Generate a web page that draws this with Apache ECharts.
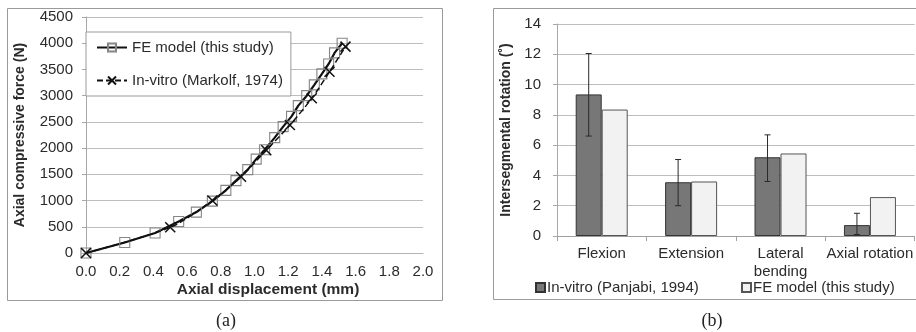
<!DOCTYPE html>
<html>
<head>
<meta charset="utf-8">
<script src="https://cdn.jsdelivr.net/npm/echarts@6/dist/echarts.min.js"></script>
<style>
html,body{margin:0;padding:0;background:#fff;}
#c{width:916px;height:332px;}
</style>
</head>
<body>
<div id="c"></div>
<script>
// Panel (a): axial force vs displacement
const feX = [0, 0.23, 0.41, 0.55, 0.655, 0.75, 0.83, 0.89, 0.96, 1.01, 1.06, 1.12, 1.17, 1.22, 1.26, 1.31, 1.355, 1.40, 1.44, 1.475, 1.52];
const feY = [0, 200, 380, 600, 780, 990, 1195, 1380, 1590, 1790, 1970, 2200, 2410, 2605, 2810, 3000, 3205, 3415, 3605, 3815, 4000];
const inX = [0, 0.50, 0.75, 0.92, 1.07, 1.21, 1.34, 1.445, 1.54];
const inY = [0, 490, 1000, 1455, 1960, 2440, 2950, 3455, 3935];
const xTicksA = [0, 2, 0.2];   // min, max, interval
const yTicksA = [0, 4500, 500];

// Panel (b): intersegmental rotation
const categories = ['Flexion', 'Extension', 'Lateral\nbending', 'Axial rotation'];
const inVitro = [9.35, 3.55, 5.2, 0.72];
const feModel = [8.35, 3.6, 5.45, 2.57];
const errLow = [6.6, 2.0, 3.6, 0.1];
const errHigh = [12.05, 5.05, 6.68, 1.5];
const yTicksB = [0, 14, 2];

const FONT = 'Liberation Sans, Arial, sans-serif';
const TXT = '#2b2b2b';

const chart = echarts.init(document.getElementById('c'), null, {renderer: 'canvas'});

const fePts = feX.map((x, i) => [x, feY[i]]);
const inPts = inX.map((x, i) => [x, inY[i]]);
const errData = categories.map((c, i) => [i, errLow[i], errHigh[i]]);

const option = {
  backgroundColor: '#fff',
  animation: false,
  textStyle: {fontFamily: FONT, color: TXT},
  grid: [
    {left: 86, top: 17, width: 337, height: 236, containLabel: false},
    {left: 557, top: 24, width: 360, height: 212, containLabel: false}
  ],
  xAxis: [
    {
      gridIndex: 0, type: 'value', min: xTicksA[0], max: xTicksA[1], interval: xTicksA[2],
      axisLine: {show: true, lineStyle: {color: '#b5b5b5', width: 1}},
      axisTick: {show: false},
      splitLine: {show: false},
      axisLabel: {fontSize: 15, color: TXT, margin: 11, fontFamily: FONT,
        formatter: v => v.toFixed(1)}
    },
    {
      gridIndex: 1, type: 'category', data: categories,
      axisLine: {show: true, lineStyle: {color: '#a0a0a0', width: 1}},
      axisTick: {show: true, length: 5, inside: false, lineStyle: {color: '#a0a0a0'}},
      axisLabel: {fontSize: 15, color: TXT, margin: 9, lineHeight: 18, fontFamily: FONT, interval: 0}
    }
  ],
  yAxis: [
    {
      gridIndex: 0, type: 'value', min: yTicksA[0], max: yTicksA[1], interval: yTicksA[2],
      name: 'Axial compressive force (N)', nameLocation: 'middle', nameGap: 59,
      nameTextStyle: {fontSize: 14, fontWeight: 'bold', color: TXT, fontFamily: FONT},
      axisLine: {show: true, lineStyle: {color: '#a8a8a8', width: 1}},
      axisTick: {show: true, length: 4, lineStyle: {color: '#a8a8a8'}},
      splitLine: {show: true, lineStyle: {color: '#bdbdbd', width: 1}},
      axisLabel: {fontSize: 15, color: TXT, margin: 13, fontFamily: FONT, formatter: v => String(v)}
    },
    {
      gridIndex: 1, type: 'value', min: yTicksB[0], max: yTicksB[1], interval: yTicksB[2],
      name: 'Intersegmental rotation (˚)', nameLocation: 'middle', nameGap: 44,
      nameTextStyle: {fontSize: 14, fontWeight: 'bold', color: TXT, fontFamily: FONT},
      axisLine: {show: true, lineStyle: {color: '#a8a8a8', width: 1}},
      axisTick: {show: true, length: 4, lineStyle: {color: '#a8a8a8'}},
      splitLine: {show: true, lineStyle: {color: '#bdbdbd', width: 1}},
      axisLabel: {fontSize: 15, color: TXT, margin: 16, fontFamily: FONT}
    }
  ],
  legend: [
    {
      data: ['FE model (this study)', 'In-vitro (Markolf, 1974)'],
      left: 86, top: 32, orient: 'vertical',
      padding: [8, 8, 8, 10], itemGap: 18, itemWidth: 30, itemHeight: 10,
      backgroundColor: '#fff', borderColor: '#9a9a9a', borderWidth: 1,
      textStyle: {fontSize: 15, color: TXT, fontFamily: FONT}
    },
    {
      data: ['In-vitro (Panjabi, 1994)'],
      left: 535, top: 280, itemWidth: 9, itemHeight: 9, icon: 'rect', itemGap: 3,
      padding: 0,
      textStyle: {fontSize: 15, color: TXT, fontFamily: FONT, padding: [0, 0, 0, -3]}
    },
    {
      data: ['FE model (this study) '],
      left: 741, top: 280, itemWidth: 9, itemHeight: 9, icon: 'rect',
      padding: 0,
      textStyle: {fontSize: 15, color: TXT, fontFamily: FONT, padding: [0, 0, 0, -3]}
    }
  ],
  series: [
    {
      name: 'FE model (this study)', type: 'line', xAxisIndex: 0, yAxisIndex: 0,
      data: fePts, symbol: 'path://M0,0L10,0L10,10L0,10Z', symbolSize: 10,
      lineStyle: {color: '#111', width: 2.2},
      itemStyle: {color: 'none', borderColor: '#858585', borderWidth: 1.1},
      z: 3
    },
    {
      name: 'In-vitro (Markolf, 1974)', type: 'line', xAxisIndex: 0, yAxisIndex: 0,
      data: inPts, smooth: 0.3,
      symbol: 'path://M0,0L10,10M10,0L0,10', symbolSize: 10,
      lineStyle: {color: '#111', width: 1.5, type: [6, 3]},
      itemStyle: {color: 'none', borderColor: '#111', borderWidth: 1.5},
      z: 4
    },
    {
      name: 'In-vitro (Panjabi, 1994)', type: 'bar', xAxisIndex: 1, yAxisIndex: 1,
      data: inVitro, barWidth: 26, barGap: '0%',
      itemStyle: {color: '#777777', borderColor: '#333', borderWidth: 1}
    },
    {
      name: 'FE model (this study) ', type: 'bar', xAxisIndex: 1, yAxisIndex: 1,
      data: feModel, barWidth: 26, barGap: '0%',
      itemStyle: {color: '#f2f2f2', borderColor: '#555', borderWidth: 1}
    },
    {
      name: 'err', type: 'custom', xAxisIndex: 1, yAxisIndex: 1,
      data: errData, encode: {x: 0, y: [1, 2]}, z: 10,
      renderItem: function (params, api) {
        const lo = api.coord([api.value(0), api.value(1)]);
        const hi = api.coord([api.value(0), api.value(2)]);
        const x = lo[0] - 13;
        const s = {stroke: '#2a2a2a', lineWidth: 1};
        return {
          type: 'group',
          children: [
            {type: 'line', shape: {x1: x, y1: lo[1], x2: x, y2: hi[1]}, style: s},
            {type: 'line', shape: {x1: x - 3, y1: lo[1], x2: x + 3, y2: lo[1]}, style: s},
            {type: 'line', shape: {x1: x - 3, y1: hi[1], x2: x + 3, y2: hi[1]}, style: s}
          ]
        };
      }
    }
  ],
  graphic: [
    {type: 'rect', shape: {x: 7.5, y: 8.5, width: 435, height: 292}, style: {fill: 'none', stroke: '#9a9a9a', lineWidth: 1}, z: -1, silent: true},
    {type: 'rect', shape: {x: 493.5, y: 8.5, width: 430, height: 291}, style: {fill: 'none', stroke: '#9a9a9a', lineWidth: 1}, z: -1, silent: true},
    {type: 'text', x: 268, y: 290, style: {text: 'Axial displacement (mm)', font: 'bold 15.5px ' + FONT, fill: TXT, textAlign: 'center', textVerticalAlign: 'middle'}},
    {type: 'text', x: 226, y: 321, style: {text: '(a)', font: '18px "Liberation Serif", "DejaVu Serif", serif', fill: '#222', textAlign: 'center', textVerticalAlign: 'middle'}},
    {type: 'text', x: 712, y: 321, style: {text: '(b)', font: '18px "Liberation Serif", "DejaVu Serif", serif', fill: '#222', textAlign: 'center', textVerticalAlign: 'middle'}}
  ]
};
chart.setOption(option);
</script>
</body>
</html>
